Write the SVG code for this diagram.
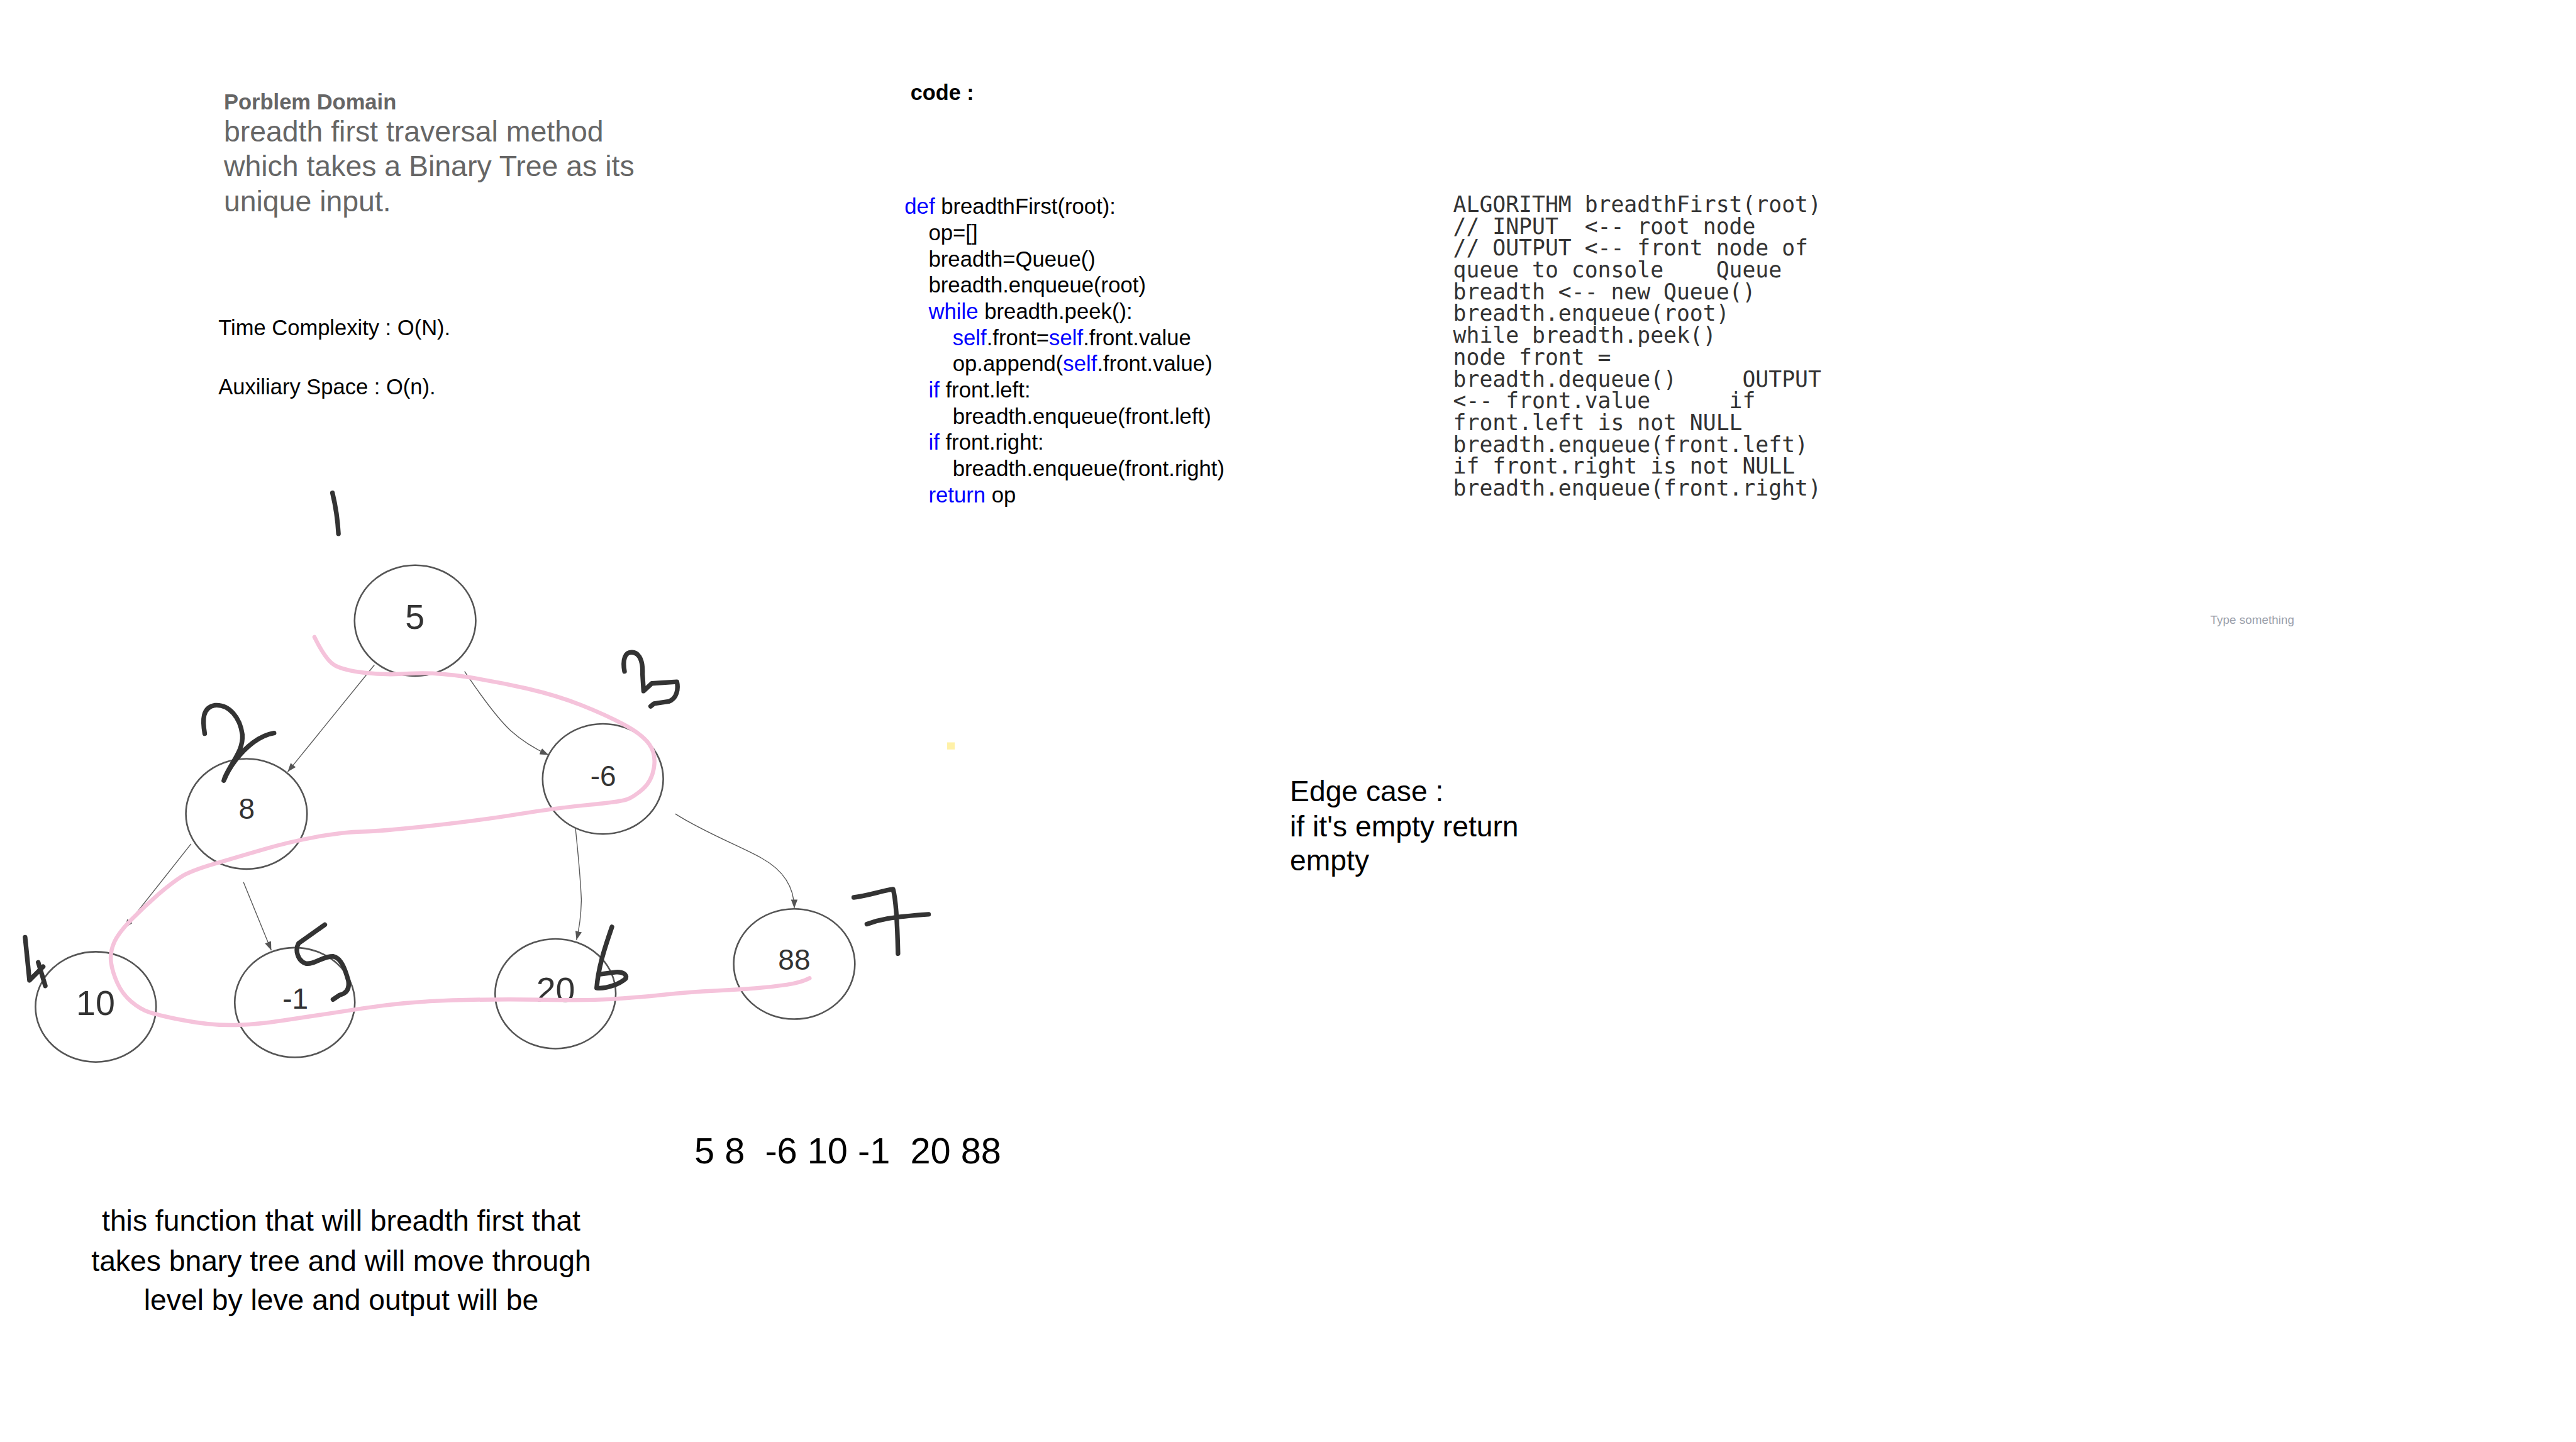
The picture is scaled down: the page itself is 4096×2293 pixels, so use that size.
<svg xmlns="http://www.w3.org/2000/svg" width="4096" height="2293" viewBox="0 0 4096 2293">
<style>
  .sans { font-family: "Liberation Sans", Arial, sans-serif; }
  .gray { fill: #666666; }
  .blk { fill: #000000; }
  .kw { fill: #0000ff; }
  .code { font-family: "Liberation Sans", Arial, sans-serif; font-size: 40px; fill: #000000; }
  .algo { font-family: "DejaVu Sans Mono", "Liberation Mono", monospace; font-size: 40px; fill: #333333; white-space: pre; }
  .node ellipse { fill: #ffffff; stroke: #555555; stroke-width: 3; }
  .node text { font-family: "Liberation Sans", Arial, sans-serif; fill: #333333; text-anchor: middle; }
  .big { font-size: 64px; }
  .small { font-size: 53px; }
  .edge { fill: none; stroke: #595959; stroke-width: 1.6; marker-end: url(#arr); }
  .pink { fill: none; stroke: #f5c3db; stroke-width: 7.5; stroke-linecap: round; stroke-linejoin: round; }
  .ink { fill: none; stroke: #333333; stroke-width: 8.5; stroke-linecap: round; stroke-linejoin: round; }
</style>
<defs>
  <marker id="arr" markerUnits="userSpaceOnUse" markerWidth="16" markerHeight="12" refX="16" refY="6" orient="auto">
    <path d="M0,0 L16,6 L0,12 z" fill="#555555"/>
  </marker>
</defs>
<rect x="0" y="0" width="4096" height="2293" fill="#ffffff"/>
<g transform="scale(0.868)">
  <g id="problem-domain" class="sans">
    <text x="410" y="201" font-size="39.8" font-weight="bold" class="gray">Porblem Domain</text>
    <text x="410" y="259" font-size="53.5" class="gray">breadth first traversal method</text>
    <text x="410" y="323" font-size="53.5" class="gray">which takes a Binary Tree as its</text>
    <text x="410" y="387" font-size="53.5" class="gray">unique input.</text>
  </g>
  <g id="complexity" class="sans">
    <text x="400" y="614" font-size="39.8" class="blk">Time Complexity : O(N).</text>
    <text x="400" y="722" font-size="39.8" class="blk">Auxiliary Space : O(n).</text>
  </g>
  <g id="code">
    <text x="1668" y="183" class="sans blk" font-size="39.5" font-weight="bold">code :</text>
    <text class="code" x="1657" y="392"><tspan class="kw">def</tspan> breadthFirst(root):</text>
    <text class="code" x="1701" y="440">op=[]</text>
    <text class="code" x="1701" y="488">breadth=Queue()</text>
    <text class="code" x="1701" y="536">breadth.enqueue(root)</text>
    <text class="code" x="1701" y="584"><tspan class="kw">while</tspan> breadth.peek():</text>
    <text class="code" x="1745" y="632"><tspan class="kw">self</tspan>.front=<tspan class="kw">self</tspan>.front.value</text>
    <text class="code" x="1745" y="680">op.append(<tspan class="kw">self</tspan>.front.value)</text>
    <text class="code" x="1701" y="728"><tspan class="kw">if</tspan> front.left:</text>
    <text class="code" x="1745" y="776">breadth.enqueue(front.left)</text>
    <text class="code" x="1701" y="824"><tspan class="kw">if</tspan> front.right:</text>
    <text class="code" x="1745" y="872">breadth.enqueue(front.right)</text>
    <text class="code" x="1701" y="920"><tspan class="kw">return</tspan> op</text>
  </g>
  <g id="algorithm">
    <text class="algo" xml:space="preserve" x="2662" y="388">ALGORITHM breadthFirst(root)</text>
    <text class="algo" xml:space="preserve" x="2662" y="428">// INPUT  &lt;-- root node</text>
    <text class="algo" xml:space="preserve" x="2662" y="468">// OUTPUT &lt;-- front node of</text>
    <text class="algo" xml:space="preserve" x="2662" y="508">queue to console    Queue</text>
    <text class="algo" xml:space="preserve" x="2662" y="548">breadth &lt;-- new Queue()</text>
    <text class="algo" xml:space="preserve" x="2662" y="588">breadth.enqueue(root)</text>
    <text class="algo" xml:space="preserve" x="2662" y="628">while breadth.peek()</text>
    <text class="algo" xml:space="preserve" x="2662" y="668">node front =</text>
    <text class="algo" xml:space="preserve" x="2662" y="708">breadth.dequeue()     OUTPUT</text>
    <text class="algo" xml:space="preserve" x="2662" y="748">&lt;-- front.value      if</text>
    <text class="algo" xml:space="preserve" x="2662" y="788">front.left is not NULL</text>
    <text class="algo" xml:space="preserve" x="2662" y="828">breadth.enqueue(front.left)</text>
    <text class="algo" xml:space="preserve" x="2662" y="868">if front.right is not NULL</text>
    <text class="algo" xml:space="preserve" x="2662" y="908">breadth.enqueue(front.right)</text>
  </g>
  <g id="type-something">
    <text x="4049" y="1143" class="sans" font-size="21.8" fill="#9aa0ab">Type something</text>
  </g>
  <g id="sticky">
    <rect x="1735" y="1360" width="14" height="13" fill="#fff1a8"/>
  </g>
  <g id="edge-case" class="sans">
    <text x="2363" y="1468" font-size="53.3" class="blk">Edge case :</text>
    <text x="2363" y="1532" font-size="53.3" class="blk">if it's empty return</text>
    <text x="2363" y="1595" font-size="53.3" class="blk">empty</text>
  </g>
  <g id="output">
    <text x="1272" y="2131" class="sans blk" font-size="66.5" xml:space="preserve">5 8  -6 10 -1  20 88</text>
  </g>
  <g id="description" class="sans" text-anchor="middle">
    <text x="625" y="2255" font-size="53.3" class="blk">this function that will breadth first that</text>
    <text x="625" y="2328" font-size="53.3" class="blk">takes bnary tree and will move through</text>
    <text x="625" y="2400" font-size="53.3" class="blk">level by leve and output will be</text>
  </g>
  <g id="connectors">
    <path class="edge" d="M686,1218 L527,1414"/>
    <path class="edge" d="M851,1230 Q905,1310 935,1338 Q965,1365 1005,1383"/>
    <path class="edge" d="M350,1546 L228,1700"/>
    <path class="edge" d="M446,1616 L497,1741"/>
    <path class="edge" d="M1053,1506 Q1063,1600 1065,1649 Q1064,1690 1056,1722"/>
    <path class="edge" d="M1237,1491 C1290,1525 1360,1552 1395,1572 C1440,1597 1455,1630 1455,1664"/>
  </g>
  <g id="node-5" class="node">
    <ellipse cx="760.5" cy="1137" rx="111" ry="101.5"/>
    <text x="760" y="1152" class="big">5</text>
  </g>
  <g id="node-8" class="node">
    <ellipse cx="451.5" cy="1491" rx="111" ry="101"/>
    <text x="452" y="1500" class="small">8</text>
  </g>
  <g id="node-neg6" class="node">
    <ellipse cx="1104.5" cy="1427" rx="110.5" ry="101"/>
    <text x="1105" y="1440" class="small">-6</text>
  </g>
  <g id="node-10" class="node">
    <ellipse cx="175.5" cy="1844.5" rx="110.5" ry="101"/>
    <text x="175" y="1860" class="big">10</text>
  </g>
  <g id="node-neg1" class="node">
    <ellipse cx="540" cy="1836.5" rx="110" ry="100.5"/>
    <text x="541" y="1848" class="small">-1</text>
  </g>
  <g id="node-20" class="node">
    <ellipse cx="1017.5" cy="1820.5" rx="110.5" ry="100.5"/>
    <text x="1018" y="1835" class="big">20</text>
  </g>
  <g id="node-88" class="node">
    <ellipse cx="1455" cy="1766" rx="111" ry="101"/>
    <text x="1455" y="1777" class="small">88</text>
  </g>
  <g id="traversal-path">
    <path class="pink" d="M576,1167 Q597,1210 613.5,1219 Q630,1228 667.5,1232.5 Q705,1237 750.5,1234 Q796,1231 854,1240 Q912,1249 966,1261.5 Q1020,1274 1065.5,1292 Q1111,1310 1144,1328 Q1177,1346 1189.5,1363.5 Q1202,1381 1198,1406 Q1194,1431 1177.5,1445.5 Q1161,1460 1148.5,1464.5 Q1136,1469 1078,1474.5 Q1020,1480 949.5,1491.5 Q879,1503 788,1513 Q697,1523 663.5,1523.5 Q630,1524 580.5,1533 Q531,1542 481,1556.5 Q431,1571 389.5,1583.5 Q348,1596 331.5,1606.5 Q315,1617 290,1638.5 Q265,1660 240.5,1685 Q216,1710 208.5,1728 Q201,1746 203.5,1763.5 Q206,1781 215,1801 Q224,1821 240.5,1835 Q257,1849 273.5,1854.5 Q290,1860 335.5,1869 Q381,1878 422.5,1878 Q464,1878 522,1869 Q580,1860 663,1847.5 Q746,1835 829,1832.5 Q912,1830 995,1831.5 Q1078,1833 1119.5,1830.5 Q1161,1828 1213,1822.5 Q1265,1817 1309,1815 Q1353,1813 1383.5,1810.5 Q1414,1808 1441,1804 Q1468,1800 1483,1792"/>
  </g>
  <g id="order-marks">
    <path class="ink" d="M609,903 Q618,940 620,978"/>
    <path class="ink" d="M375,1344 C371,1320 370,1296 394,1292 C420,1290 440,1315 444,1346 C446,1375 425,1395 412,1424 L410,1430 C420,1405 440,1378 464,1360 C478,1350 490,1345 502,1343"/>
    <path class="ink" d="M1144,1230 C1140,1208 1145,1194 1158,1195 C1172,1196 1178,1212 1177,1235 L1179,1266 L1194,1252 L1240,1249 C1243,1262 1240,1280 1225,1285 L1198,1289 L1192,1294"/>
    <path class="ink" d="M46,1717 L54,1796 L79,1771 M70,1763 L83,1806"/>
    <path class="ink" d="M595,1694 L547,1728 C540,1740 545,1760 560,1765 C575,1768 590,1752 610,1752 C625,1755 632,1775 638,1796 C641,1812 634,1820 622,1823 L610,1831"/>
    <path class="ink" d="M1121,1698 C1110,1730 1096,1770 1093,1810 C1110,1812 1135,1803 1146,1793 C1150,1785 1140,1780 1128,1781 L1097,1785"/>
    <path class="ink" d="M1564,1644 C1590,1641 1615,1632 1636,1629 C1642,1650 1644,1700 1645,1747 M1588,1693 C1610,1685 1630,1680 1701,1675"/>
  </g>
</g>
</svg>
